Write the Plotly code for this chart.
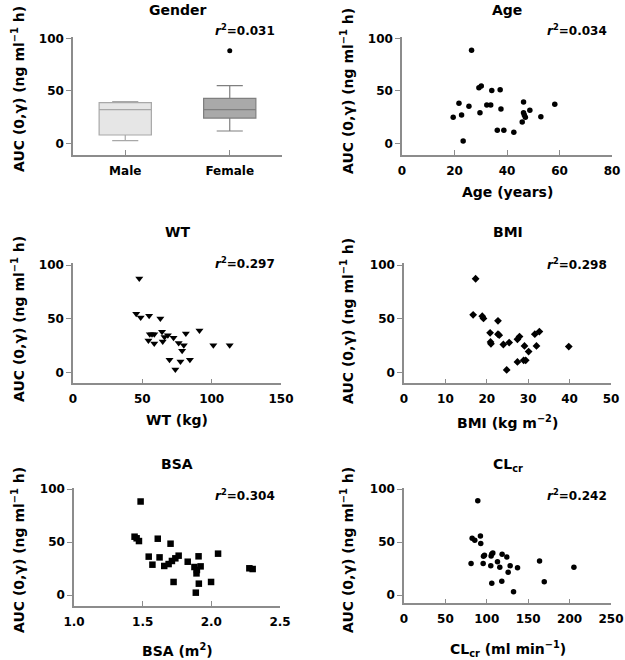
import plotly.graph_objects as go

# ---------------- data ----------------
gender_cats = ["Male", "Female"]
gender_pos = [1, 3]
box_q1 = [7.9, 24.0]
box_median = [32.0, 32.0]
box_q3 = [38.7, 42.8]
box_low = [2.5, 11.7]
box_high = [39.6, 54.9]
female_outlier = [88.2]

age = [26.5, 29.3, 30.2, 34.2, 37.4, 21.7, 25.5, 32.3, 33.8, 37.7, 29.7, 19.5, 22.7,
       46.3, 46.3, 46.6, 47.0, 48.7, 45.8, 52.9, 58.2, 36.3, 38.8, 42.6, 23.3]
auc_age = [88.6, 53.0, 54.6, 50.2, 51.1, 38.1, 35.2, 36.5, 36.5, 32.7, 29.2, 24.8, 27.0,
           39.4, 29.2, 27.0, 24.8, 31.4, 20.3, 25.4, 37.1, 12.4, 12.4, 10.5, 2.2]

wt = [47.8, 45.6, 48.8, 54.9, 63.0, 55.4, 58.6, 64.2, 66.0, 68.4, 54.4, 58.6, 64.7,
      72.5, 76.2, 79.9, 81.4, 91.2, 78.7, 101.2, 113.0, 69.6, 77.5, 84.3, 73.8, 57.0]
auc_wt = [87.5, 54.5, 51.1, 52.6, 50.2, 35.5, 35.5, 37.7, 33.0, 34.6, 29.6, 26.8, 28.7,
          32.1, 27.4, 25.2, 36.1, 38.9, 20.2, 25.2, 25.2, 11.8, 10.0, 11.8, 2.5, 35.5]

bmi = [17.3, 16.7, 18.9, 19.2, 22.7, 20.8, 22.7, 23.0, 20.9, 21.0, 24.0, 25.4, 27.4,
       27.9, 31.6, 32.7, 29.1, 30.1, 32.0, 39.8, 27.4, 28.9, 29.4, 24.8]
auc_bmi = [87.2, 53.6, 52.3, 50.2, 48.0, 36.8, 35.5, 34.6, 28.3, 26.5, 25.9, 27.7, 30.8,
           33.3, 35.5, 38.0, 24.6, 19.3, 24.6, 24.0, 9.7, 11.2, 11.2, 2.2]

bsa = [1.485, 1.441, 1.456, 1.473, 1.610, 1.703, 1.544, 1.623, 1.571, 1.657, 1.689, 1.713,
       1.738, 1.762, 1.828, 1.877, 1.907, 1.922, 1.892, 1.895, 2.049, 2.277, 2.301, 1.725,
       1.909, 1.998, 1.887]
auc_bsa = [88.1, 55.0, 53.5, 50.9, 53.1, 48.4, 36.2, 35.5, 28.6, 27.4, 29.2, 32.1,
           34.6, 37.1, 31.4, 26.4, 36.5, 27.0, 20.4, 23.6, 39.0, 25.2, 24.5, 12.3,
           10.7, 12.3, 2.2]

clcr = [89.1, 82.3, 85.5, 92.3, 92.7, 81.0, 96.0, 97.2, 106.0, 105.2, 107.3, 112.9, 118.5,
        124.2, 95.6, 104.8, 115.7, 128.2, 137.1, 125.8, 163.7, 205.2, 106.0, 118.1, 169.4, 132.3]
auc_clcr = [89.0, 53.5, 51.6, 55.7, 48.7, 29.6, 36.5, 37.4, 38.7, 36.8, 39.6, 31.4, 38.4,
            35.8, 29.6, 27.7, 26.1, 27.7, 25.8, 21.4, 32.1, 26.1, 11.0, 12.9, 12.6, 3.1]

r2_labels = ["0.031", "0.034", "0.297", "0.298", "0.304", "0.242"]
titles = ["Gender", "Age", "WT", "BMI", "BSA", "CL<sub>cr</sub>"]
xtitles = [None, "Age (years)", "WT (kg)", "BMI (kg m<sup>\u22122</sup>)",
           "BSA (m<sup>2</sup>)", "CL<sub>cr</sub> (ml min<sup>\u22121</sup>)"]
ytitle = "AUC (0,\u03b3) (ng ml<sup>\u22121</sup> h)"

# ---------------- layout helpers ----------------
W, H = 625, 660
FONT = "DejaVu Sans"
AX = "#8c8c8c"


def px_x(p):
    return p / W


def px_y(p):
    return 1 - p / H


def yrange(p0, p100, top, bottom):
    s = (p0 - p100) / 100.0
    return [-(bottom - p0) / s, (p0 - top) / s]


panels = [
    dict(xd=(73, 282), xr=[0, 4], yg=(143.3, 38.3, 36.7, 155), xt=gender_pos),
    dict(xd=(402, 612), xr=[0, 80], yg=(143.3, 38.3, 36.7, 155), xt=[0, 20, 40, 60, 80]),
    dict(xd=(73, 281), xr=[0, 150], yg=(372.3, 265, 263.3, 383.3), xt=[0, 50, 100, 150]),
    dict(xd=(404, 611), xr=[0, 50], yg=(372.3, 265, 263.3, 383.3), xt=[0, 10, 20, 30, 40, 50]),
    dict(xd=(74, 280), xr=[1.0, 2.5], yg=(595, 489, 487.7, 606), xt=[1.0, 1.5, 2.0, 2.5]),
    dict(xd=(404, 611), xr=[0, 250], yg=(595, 489, 487.7, 603.3), xt=[0, 50, 100, 150, 200, 250]),
]
title_y = [10, 10, 232, 232, 464, 465]
r2_y = [30, 30, 263, 264, 495, 495]
xtitle_y = [None, 192, 420, 422, 650, 649]
ytitle_y = [89, 91, 319, 321, 550, 550]

fig = go.Figure()

box_fill = ["#e6e6e6", "#a9a9a9"]
box_line = ["#a8a8a8", "#7f7f7f"]
for i in range(2):
    fig.add_trace(go.Box(
        x=[gender_pos[i]], q1=[box_q1[i]], median=[box_median[i]], q3=[box_q3[i]],
        lowerfence=[box_low[i]], upperfence=[box_high[i]], width=1.0, whiskerwidth=0.5,
        fillcolor=box_fill[i], line=dict(color=box_line[i], width=1.2),
        boxpoints=False, xaxis="x", yaxis="y", showlegend=False, hoverinfo="skip"))
fig.add_trace(go.Scatter(x=[gender_pos[1]], y=female_outlier, mode="markers",
                         marker=dict(color="black", size=5), xaxis="x", yaxis="y",
                         showlegend=False))

scatter_sets = [
    (age, auc_age, "circle", 5.5),
    (wt, auc_wt, "triangle-down", 7),
    (bmi, auc_bmi, "diamond", 6),
    (bsa, auc_bsa, "square", 6.5),
    (clcr, auc_clcr, "circle", 5.5),
]
for k, (xs, ys, sym, sz) in enumerate(scatter_sets, start=2):
    fig.add_trace(go.Scatter(x=xs, y=ys, mode="markers",
                             marker=dict(color="black", size=sz, symbol=sym),
                             xaxis=f"x{k}", yaxis=f"y{k}", showlegend=False))

tick_font = dict(family=FONT, size=12, color="black", weight="bold")
layout = dict(template="none", width=W, height=H, margin=dict(l=0, r=0, t=0, b=0, pad=0),
              autosize=False, paper_bgcolor="white", plot_bgcolor="white", showlegend=False)
annotations = []
for i, p in enumerate(panels):
    k = "" if i == 0 else str(i + 1)
    xa = dict(domain=[px_x(p["xd"][0]), px_x(p["xd"][1])], range=p["xr"],
              anchor=f"y{k}", showline=True, linecolor=AX, linewidth=1.5, automargin=False,
              showgrid=False, zeroline=False, ticks="inside", ticklen=5, tickwidth=1,
              tickcolor=AX, tickvals=p["xt"], tickfont=tick_font, ticklabelstandoff=4,
              fixedrange=True)
    if i == 0:
        xa["ticktext"] = gender_cats
    elif i == 4:
        xa["ticktext"] = ["1.0", "1.5", "2.0", "2.5"]
    p0, p100, top, bottom = p["yg"]
    ya = dict(domain=[px_y(bottom), px_y(top)], range=yrange(p0, p100, top, bottom),
              anchor=f"x{k}", showline=True, linecolor=AX, linewidth=1.5, automargin=False,
              showgrid=False, zeroline=False, ticks="outside", ticklen=5, tickwidth=1,
              tickcolor=AX, tickvals=[0, 50, 100], tickfont=tick_font, fixedrange=True)
    layout[f"xaxis{k}"] = xa
    layout[f"yaxis{k}"] = ya

    cx = (p["xd"][0] + p["xd"][1]) / 2
    annotations.append(dict(text=titles[i], x=px_x(cx), y=px_y(title_y[i]), xref="paper",
                            yref="paper", showarrow=False, xanchor="center", yanchor="middle",
                            font=dict(family=FONT, size=14, color="black", weight="bold")))
    rx = 277 if i % 2 == 0 else 609
    annotations.append(dict(text=f"<i>r</i><sup>2</sup>={r2_labels[i]}", x=px_x(rx),
                            y=px_y(r2_y[i]), xref="paper", yref="paper", showarrow=False,
                            xanchor="right", yanchor="middle",
                            font=dict(family=FONT, size=12, color="black", weight="bold")))
    if xtitles[i]:
        annotations.append(dict(text=xtitles[i], x=px_x(cx), y=px_y(xtitle_y[i]),
                                xref="paper", yref="paper", showarrow=False,
                                xanchor="center", yanchor="middle",
                                font=dict(family=FONT, size=14, color="black", weight="bold")))
    tx = 18 if i % 2 == 0 else 347
    annotations.append(dict(text=ytitle, x=px_x(tx), y=px_y(ytitle_y[i]), xref="paper",
                            yref="paper", showarrow=False, textangle=-90,
                            xanchor="center", yanchor="middle",
                            font=dict(family=FONT, size=14, color="black", weight="bold")))

layout["annotations"] = annotations
fig.update_layout(**layout)
fig.write_html("out.html", config={"displayModeBar": False},
               post_script="document.body.style.margin='0';document.body.style.overflow='hidden';")
